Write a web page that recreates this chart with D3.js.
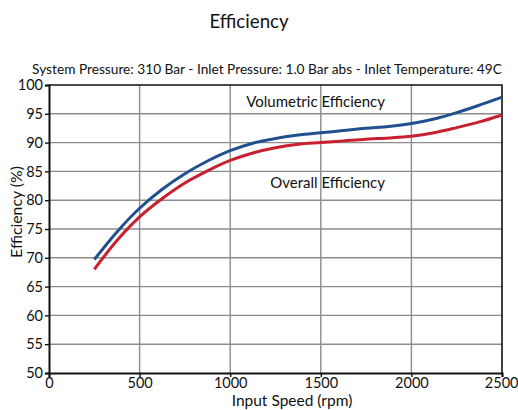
<!DOCTYPE html>
<html lang="en">
<head>
<meta charset="UTF-8">
<title>Efficiency</title>
<style>
  body { margin: 0; background: #fff; }
  svg text { font-family: Lato, "Noto Sans", sans-serif; fill: #111; }
</style>
</head>
<body>
<div id="chart"></div>
<script src="https://d3js.org/d3.v7.min.js"></script>
<script>
  // data
  const speeds = [250, 375, 500, 625, 750, 875, 1000, 1125, 1250, 1375, 1500, 1625, 1750, 1875, 2000, 2125, 2250, 2375, 2500];
  const volumetric = [69.7, 74.5, 78.6, 81.9, 84.6, 86.8, 88.6, 89.9, 90.7, 91.3, 91.7, 92.1, 92.5, 92.8, 93.3, 94.1, 95.2, 96.5, 97.9];
  const overall = [68.0, 73.0, 77.1, 80.3, 83.0, 85.1, 86.9, 88.2, 89.1, 89.7, 90.0, 90.3, 90.6, 90.8, 91.1, 91.7, 92.6, 93.6, 94.8];
  const xTicks = [0, 500, 1000, 1500, 2000, 2500];
  const yTicks = [50, 55, 60, 65, 70, 75, 80, 85, 90, 95, 100];

  const width = 518, height = 410;
  const margin = {top: 85, right: 16, bottom: 37, left: 49};

  const svg = d3.select("#chart").append("svg")
    .attr("width", width)
    .attr("height", height);

  const x = d3.scaleLinear().domain([0, 2500]).range([margin.left, width - margin.right]);
  const y = d3.scaleLinear().domain([50, 100]).range([height - margin.bottom, margin.top]);

  // grid
  const grid = svg.append("g").attr("stroke", "#8c8c8c").attr("stroke-width", 1.4);
  grid.selectAll(".gx").data(xTicks.slice(1, -1)).enter().append("line")
    .attr("x1", d => x(d)).attr("x2", d => x(d))
    .attr("y1", y(50)).attr("y2", y(100));
  grid.selectAll(".gy").data(yTicks.slice(1, -1)).enter().append("line")
    .attr("x1", x(0)).attr("x2", x(2500))
    .attr("y1", d => y(d)).attr("y2", d => y(d));

  // frame top / right
  svg.append("path")
    .attr("d", `M${x(0)},${y(100)}H${x(2500)}V${y(50)}`)
    .attr("fill", "none").attr("stroke", "#111").attr("stroke-width", 1.6);

  // axes
  const xAxis = svg.append("g")
    .attr("transform", `translate(0,${y(50)})`)
    .call(d3.axisBottom(x).tickValues(xTicks).tickFormat(d3.format("d")).tickSize(4).tickPadding(1));
  const yAxis = svg.append("g")
    .attr("transform", `translate(${x(0)},0)`)
    .call(d3.axisLeft(y).tickValues(yTicks).tickFormat(d3.format("d")).tickSize(4).tickPadding(2));

  [xAxis, yAxis].forEach(a => {
    a.select(".domain").attr("stroke", "#111").attr("stroke-width", 2);
    a.selectAll(".tick line").attr("stroke", "#111").attr("stroke-width", 1.4);
    a.selectAll(".tick text").attr("font-size", 14.5).attr("font-family", "Lato, sans-serif").attr("fill", "#111");
  });
  xAxis.selectAll(".tick text").filter(d => d === 2500).attr("text-anchor", "end").attr("dx", 16);
  xAxis.selectAll(".tick text").attr("dy", "0.68em");

  // curves
  const line = d3.line()
    .x((d, i) => x(speeds[i]))
    .y(d => y(d))
    .curve(d3.curveCatmullRom.alpha(0.5));

  svg.append("path").datum(overall)
    .attr("d", line).attr("fill", "none")
    .attr("stroke", "#c8202e").attr("stroke-width", 3);
  svg.append("path").datum(volumetric)
    .attr("d", line).attr("fill", "none")
    .attr("stroke", "#22508e").attr("stroke-width", 3);

  // curve labels
  svg.append("text").attr("x", 385).attr("y", y(96.2))
    .attr("text-anchor", "end").attr("font-size", 15)
    .text("Volumetric Efficiency");
  svg.append("text").attr("x", 385).attr("y", y(82.1))
    .attr("text-anchor", "end").attr("font-size", 15)
    .text("Overall Efficiency");

  // titles
  svg.append("text").attr("x", 249).attr("y", 28)
    .attr("text-anchor", "middle").attr("font-size", 18.7)
    .text("Efficiency");
  svg.append("text").attr("x", 267).attr("y", 74)
    .attr("text-anchor", "middle").attr("font-size", 13.7)
    .text("System Pressure: 310 Bar - Inlet Pressure: 1.0 Bar abs - Inlet Temperature: 49C");

  svg.append("text").attr("x", 292).attr("y", 406)
    .attr("text-anchor", "middle").attr("font-size", 15.5)
    .text("Input Speed (rpm)");
  svg.append("text")
    .attr("transform", `translate(22,212) rotate(-90)`)
    .attr("text-anchor", "middle").attr("font-size", 15.8)
    .text("Efficiency (%)");
</script>
</body>
</html>
